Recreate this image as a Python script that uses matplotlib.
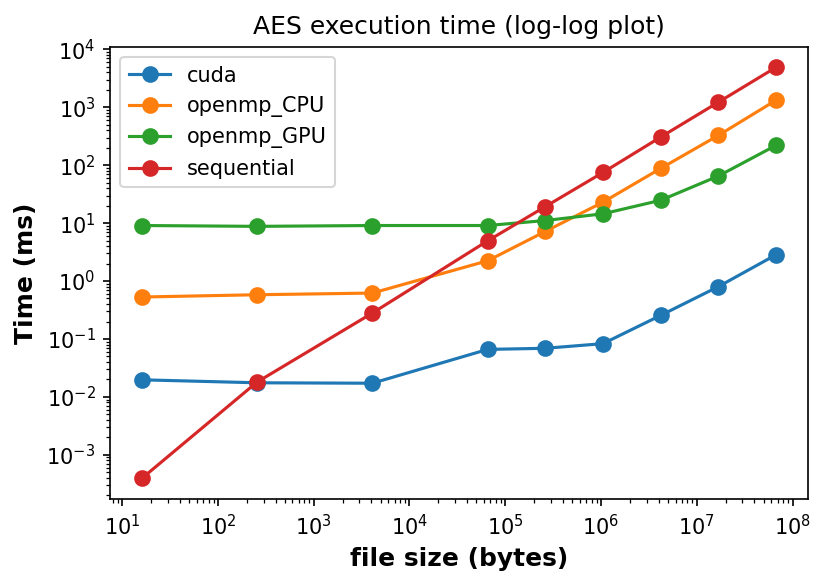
import matplotlib
matplotlib.use("Agg")
import matplotlib.pyplot as plt

# file sizes in bytes (16 B ... 64 MB)
sizes = [16, 256, 4096, 65536, 262144, 1048576, 4194304, 16777216, 67108864]

# execution times in ms
cuda = [0.0197, 0.0175, 0.0172, 0.066, 0.069, 0.083, 0.255, 0.80, 2.84]
openmp_cpu = [0.53, 0.58, 0.62, 2.24, 7.2, 23.0, 88.0, 327.0, 1325.0]
openmp_gpu = [9.1, 8.8, 9.1, 9.1, 11.1, 14.5, 24.8, 65.0, 220.0]
sequential = [0.00039, 0.018, 0.28, 4.95, 19.3, 75.0, 306.0, 1224.0, 4900.0]

series = [("cuda", cuda), ("openmp_CPU", openmp_cpu),
          ("openmp_GPU", openmp_gpu), ("sequential", sequential)]

fig = plt.figure(figsize=(826 / 150, 585 / 150), dpi=150)
ax = fig.add_axes([0.1332, 0.147, 0.8446, 0.773])

for name, times in series:
    ax.plot(sizes, times, marker='o', markersize=7, label=name)

ax.set_xscale('log')
ax.set_yscale('log')
ax.set_title('AES execution time (log-log plot)', fontsize=12)
ax.set_xlabel('file size (bytes)', fontsize=12, fontweight='bold')
ax.set_ylabel('Time (ms)', fontsize=12, fontweight='bold')
ax.legend(loc='upper left')

fig.savefig('out.png', dpi=150)
